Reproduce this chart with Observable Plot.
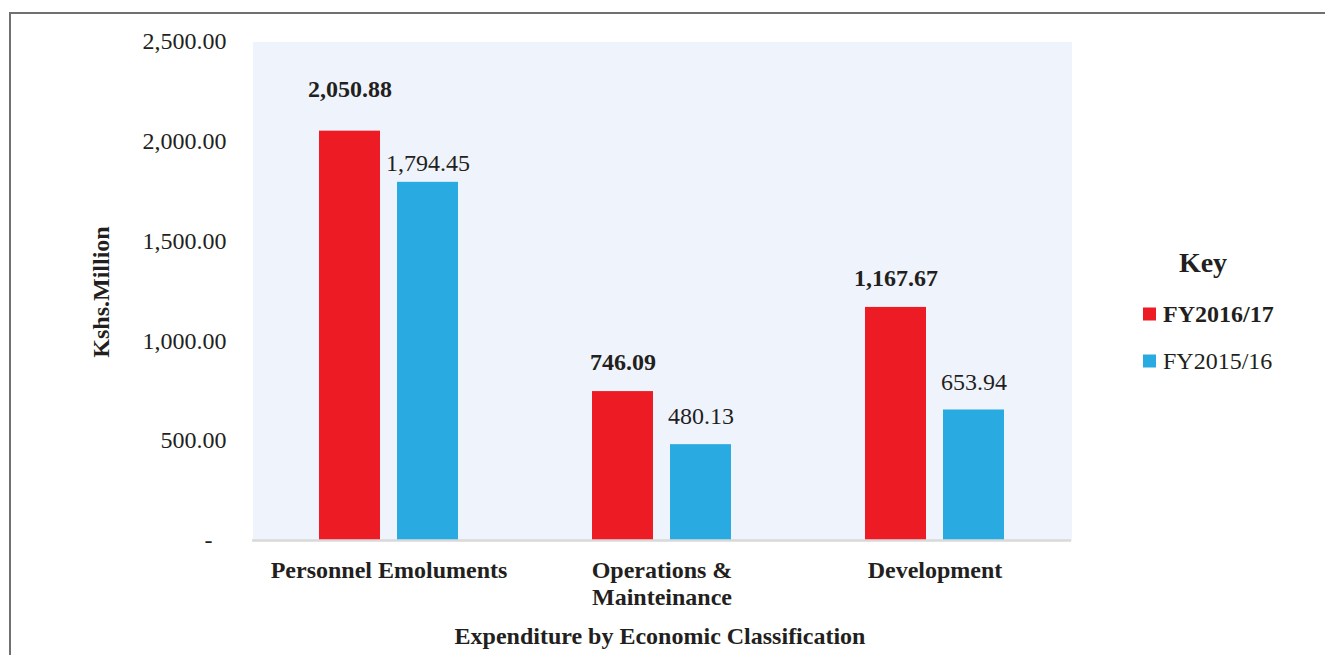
<!DOCTYPE html>
<html>
<head>
<meta charset="utf-8">
<script src="https://cdn.jsdelivr.net/npm/d3@7"></script>
<script src="https://cdn.jsdelivr.net/npm/@observablehq/plot@0.6"></script>
<style>
  html, body { margin: 0; padding: 0; background: #fff; }
  #chart { width: 1325px; height: 655px; }
</style>
</head>
<body>
<div id="chart"></div>
<script>
const categories = ["Personnel Emoluments", "Operations &\nMainteinance", "Development"];
const seriesNames = ["FY2016/17", "FY2015/16"];
const fy2016_17 = [2050.88, 746.09, 1167.67];
const fy2015_16 = [1794.45, 480.13, 653.94];
const yTicks = [0, 500, 1000, 1500, 2000, 2500];
const colors = ["#ed1c24", "#29abe2"];

const rows = [];
categories.forEach((c, i) => {
  rows.push({category: c, series: seriesNames[0], value: fy2016_17[i]});
  rows.push({category: c, series: seriesNames[1], value: fy2015_16[i]});
});

const fmt = d3.format(",.2f");
const ink = "#231f20";
const font = "Liberation Serif";

const isRed = d => d.series === seriesNames[0];
const isFirst = d => d.category === categories[0];

const plot = Plot.plot({
  width: 1325,
  height: 655,
  marginLeft: 252,
  marginRight: 254,
  marginTop: 41,
  marginBottom: 115,
  style: {fontFamily: font, color: ink, background: "transparent"},
  fx: {domain: categories, padding: 0, label: null},
  x: {domain: seriesNames, paddingInner: 0.221, paddingOuter: 0.853, axis: null},
  y: {domain: [0, 2500], label: null},
  color: {domain: seriesNames, range: colors},
  marks: [
    Plot.frame({fill: "#eff4fc", stroke: null, shapeRendering: "crispEdges"}),
    Plot.barY(rows, {fx: "category", x: "series", y: "value", fill: "series"}),
    Plot.ruleY([0], {stroke: "#d9d9d9", strokeWidth: 2.5}),
    Plot.text(rows.filter(d => isRed(d) && !isFirst(d)), {fx: "category", x: "series", y: "value", text: d => fmt(d.value), dy: -29, fontWeight: "bold", fontSize: 24, fill: ink}),
    Plot.text(rows.filter(d => !isRed(d) && !isFirst(d)), {fx: "category", x: "series", y: "value", text: d => fmt(d.value), dy: -28, fontSize: 24, fill: ink}),
    Plot.text(rows.filter(d => isRed(d) && isFirst(d)), {fx: "category", x: "series", y: "value", text: d => fmt(d.value), dy: -42, fontWeight: "bold", fontSize: 24, fill: ink}),
    Plot.text(rows.filter(d => !isRed(d) && isFirst(d)), {fx: "category", x: "series", y: "value", text: d => fmt(d.value), dy: -19, fontSize: 24, fill: ink}),
    Plot.axisY({ticks: yTicks, tickFormat: d => d === 0 ? "-\u2002\u200a" : fmt(d), tickSize: 0, tickPadding: 26, fontSize: 24, label: null, fill: ink}),
    Plot.axisFx({anchor: "bottom", tickSize: 0, tickPadding: 18, fontSize: 24, fontWeight: "bold", lineHeight: 1.125, label: null, fill: ink})
  ]
});

document.getElementById("chart").appendChild(plot);

const svg = d3.select(plot);
// border lines
svg.append("line").attr("x1", 10).attr("x2", 10).attr("y1", 12).attr("y2", 655)
  .attr("stroke", "#707070").attr("stroke-width", 2);
svg.append("line").attr("x1", 9).attr("x2", 1325).attr("y1", 13).attr("y2", 13)
  .attr("stroke", "#707070").attr("stroke-width", 2);

// axis titles
svg.append("text").text("Kshs.Million")
  .attr("transform", "translate(101,292) rotate(-90)")
  .attr("text-anchor", "middle").attr("dominant-baseline", "central")
  .attr("font-family", font).attr("font-size", 24).attr("font-weight", "bold").attr("fill", ink);
svg.append("text").text("Expenditure by Economic Classification")
  .attr("x", 660).attr("y", 636)
  .attr("text-anchor", "middle").attr("dominant-baseline", "central")
  .attr("font-family", font).attr("font-size", 24).attr("font-weight", "bold").attr("fill", ink);

// legend
svg.append("text").text("Key")
  .attr("x", 1203).attr("y", 262)
  .attr("text-anchor", "middle").attr("dominant-baseline", "central")
  .attr("font-family", font).attr("font-size", 28).attr("font-weight", "bold").attr("fill", ink);
const legendY = [314, 361];
seriesNames.forEach((s, i) => {
  svg.append("rect").attr("x", 1143).attr("y", legendY[i] - 6.5).attr("width", 13).attr("height", 13)
    .attr("fill", colors[i]);
  svg.append("text").text(s)
    .attr("x", 1163).attr("y", legendY[i])
    .attr("text-anchor", "start").attr("dominant-baseline", "central")
    .attr("font-family", font).attr("font-size", 24)
    .attr("font-weight", i === 0 ? "bold" : "normal").attr("fill", ink);
});
</script>
</body>
</html>
